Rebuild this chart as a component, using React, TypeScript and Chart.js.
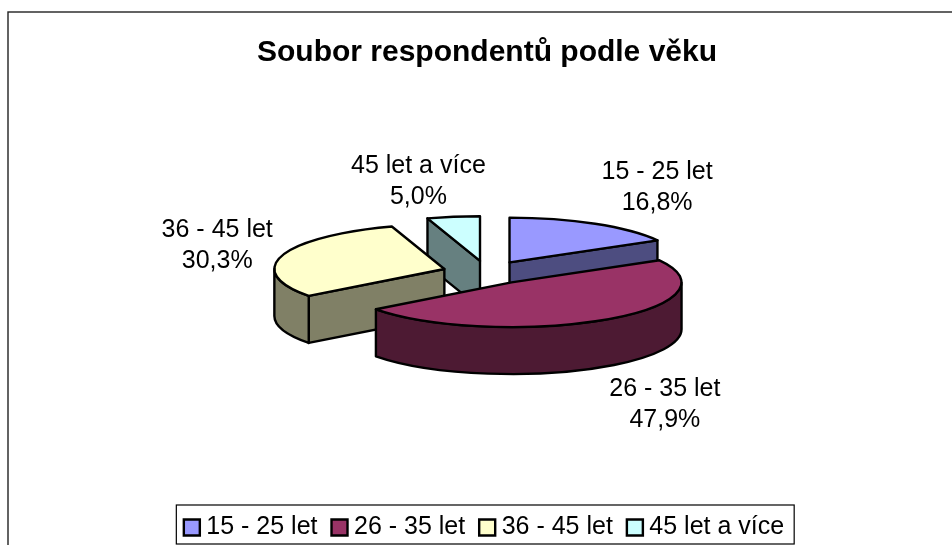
import React, { useEffect, useRef } from "react";
import { Chart, registerables } from "chart.js";

Chart.register(...registerables);

const categories = ["15 - 25 let", "26 - 35 let", "36 - 45 let", "45 let a více"];
const shares = [16.8, 47.9, 30.3, 5.0];
const topColors = ["#9999FF", "#993366", "#FFFFCC", "#CCFFFF"];
const sideColors = ["#4D4D80", "#4D1A33", "#808066", "#668080"];
const chartTitle = "Soubor respondentů podle věku";

// styling of the tilted, exploded pie
const FONT = "'Liberation Sans', Arial, sans-serif";
const LABEL_SIZE = 25;
const RADIUS = 170;
const TILT = 0.263;
const EXPLODE = 44.7;
const DEPTH = 47;
const LINE = 2.4;
const PAINT_ORDER = [3, 2, 0, 1];
const LABEL_NUDGE = [
  [62, -36],
  [60, 85],
  [-65, -10],
  [-35, -35],
];

const pct = (v: number) => v.toFixed(1).replace(".", ",") + "%";

const pie3d = {
  id: "pie3d",
  beforeDraw(chart: any) {
    const { ctx, width, height } = chart;
    ctx.save();
    ctx.fillStyle = "#fff";
    ctx.fillRect(0, 0, width, height);
    ctx.strokeStyle = "#222";
    ctx.lineWidth = 1.4;
    ctx.strokeRect(8, 12, width + 20, height + 20);
    ctx.restore();
  },
  beforeDatasetDraw(chart: any, args: any) {
    const { ctx } = chart;
    const arcs = args.meta.data;
    ctx.save();
    ctx.lineWidth = LINE;
    ctx.lineJoin = "round";
    ctx.strokeStyle = "#000";
    for (const i of PAINT_ORDER) {
      const arc = arcs[i];
      const a0 = arc.startAngle;
      const a1 = arc.endAngle;
      const mid = (a0 + a1) / 2;
      const r = arc.outerRadius;
      const cx = arc.x + EXPLODE * Math.cos(mid);
      const cy = arc.y - DEPTH / 2 + TILT * EXPLODE * Math.sin(mid);
      const px = (a: number) => cx + r * Math.cos(a);
      const py = (a: number) => cy + r * TILT * Math.sin(a);

      ctx.fillStyle = sideColors[i];
      const face = (a: number) => {
        ctx.beginPath();
        ctx.moveTo(cx, cy);
        ctx.lineTo(px(a), py(a));
        ctx.lineTo(px(a), py(a) + DEPTH);
        ctx.lineTo(cx, cy + DEPTH);
        ctx.closePath();
        ctx.fill();
        ctx.stroke();
      };
      if (Math.cos(a0) < 0) face(a0);
      if (Math.cos(a1) > 0) face(a1);
      const from = Math.max(a0, 0);
      const to = Math.min(a1, Math.PI);
      if (to > from) {
        ctx.beginPath();
        ctx.ellipse(cx, cy, r, r * TILT, 0, from, to);
        ctx.lineTo(px(to), py(to) + DEPTH);
        ctx.ellipse(cx, cy + DEPTH, r, r * TILT, 0, to, from, true);
        ctx.closePath();
        ctx.fill();
        ctx.stroke();
      }

      ctx.save();
      ctx.translate(cx, cy);
      ctx.scale(1, TILT);
      ctx.translate(-arc.x, -arc.y);
      arc.draw(ctx);
      ctx.restore();

      ctx.beginPath();
      ctx.moveTo(cx, cy);
      ctx.ellipse(cx, cy, r, r * TILT, 0, a0, a1);
      ctx.closePath();
      ctx.stroke();
    }

    ctx.fillStyle = "#000";
    ctx.font = `${LABEL_SIZE}px ${FONT}`;
    ctx.textAlign = "center";
    ctx.textBaseline = "middle";
    arcs.forEach((arc: any, i: number) => {
      const mid = (arc.startAngle + arc.endAngle) / 2;
      const r = arc.outerRadius;
      const x = arc.x + (EXPLODE + r) * Math.cos(mid) + LABEL_NUDGE[i][0];
      const y = arc.y - DEPTH / 2 + TILT * (EXPLODE + r) * Math.sin(mid) + LABEL_NUDGE[i][1];
      ctx.fillText(categories[i], x, y - 15.5);
      ctx.fillText(pct(shares[i]), x, y + 15.5);
    });
    ctx.restore();
    return false;
  },
  afterDraw(chart: any) {
    const boxes = chart.legend?.legendHitBoxes;
    if (!boxes?.length) return;
    const { ctx } = chart;
    const left = Math.min(...boxes.map((b: any) => b.left));
    const right = Math.max(...boxes.map((b: any) => b.left + b.width));
    const top = boxes[0].top;
    const h = boxes[0].height;
    ctx.save();
    ctx.strokeStyle = "#000";
    ctx.lineWidth = 1.2;
    ctx.strokeRect(left - 13.5, top - 10, right - left + 23.5, h + 14);
    ctx.restore();
  },
};

export default function App() {
  const ref = useRef<HTMLCanvasElement>(null);
  useEffect(() => {
    const chart = new Chart(ref.current as HTMLCanvasElement, {
      type: "pie",
      data: {
        labels: categories,
        datasets: [
          {
            data: shares,
            backgroundColor: topColors,
            borderWidth: 0,
            radius: RADIUS,
          },
        ],
      },
      options: {
        responsive: false,
        animation: false,
        events: [],
        layout: { padding: { left: 22, right: 0, top: 0, bottom: -5 } },
        plugins: {
          tooltip: { enabled: false },
          title: {
            display: true,
            text: chartTitle,
            color: "#000",
            font: { family: FONT, size: 30, weight: "bold" },
            padding: { top: 35, bottom: 26 },
          },
          legend: {
            position: "bottom",
            labels: {
              color: "#000",
              font: { family: FONT, size: LABEL_SIZE },
              usePointStyle: true,
              boxWidth: 4,
              boxHeight: 16,
              padding: 20,
              generateLabels: () =>
                categories.map((text, i) => ({
                  text,
                  fillStyle: topColors[i],
                  strokeStyle: "#000",
                  lineWidth: LINE,
                  pointStyle: "rect",
                  hidden: false,
                  index: i,
                })),
            },
          },
        },
      },
      plugins: [pie3d],
    } as any);
    return () => chart.destroy();
  }, []);
  return (
    <canvas
      ref={ref}
      width={952}
      height={545}
      style={{ position: "fixed", left: 0, top: 0, display: "block" }}
    />
  );
}
